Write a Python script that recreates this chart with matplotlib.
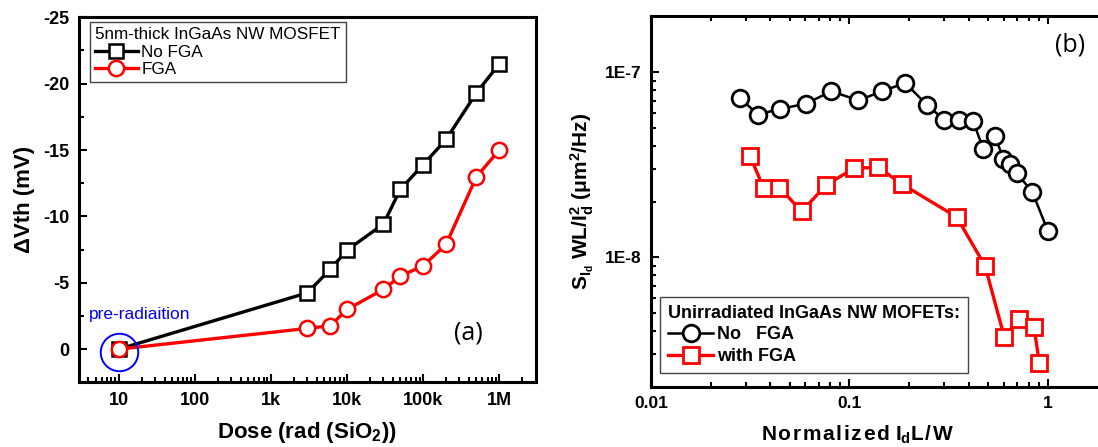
import numpy as np
import matplotlib
matplotlib.use("Agg")
import matplotlib.pyplot as plt
from matplotlib.ticker import FixedLocator, FixedFormatter, LogLocator, NullFormatter, MultipleLocator

plt.rcParams['font.family'] = ['Liberation Sans', 'DejaVu Sans']
plt.rcParams['axes.unicode_minus'] = False
plt.rcParams['mathtext.fontset'] = 'custom'
plt.rcParams['mathtext.rm'] = 'Liberation Sans:bold'
plt.rcParams['mathtext.it'] = 'Liberation Sans:bold'
plt.rcParams['mathtext.bf'] = 'Liberation Sans:bold'

# (a) threshold voltage shift vs dose
dose = [10, 3e3, 6e3, 1e4, 3e4, 5e4, 1e5, 2e5, 5e5, 1e6]
dvth_nofga = [0, -4.24, -6.0, -7.46, -9.42, -12.03, -13.9, -15.8, -19.3, -21.5]
dvth_fga = [0, -1.56, -1.76, -2.99, -4.5, -5.5, -6.28, -7.89, -12.98, -15.0]
dose_ticks = [10, 100, 1e3, 1e4, 1e5, 1e6]
dose_labels = ['10', '100', '1k', '10k', '100k', '1M']

# (b) normalized noise vs normalized current
x_nofga = [0.0281, 0.0345, 0.0448, 0.0603, 0.0809, 0.111, 0.1466, 0.191, 0.245,
           0.300, 0.357, 0.419, 0.473, 0.542, 0.597, 0.645, 0.697, 0.836, 1.0]
s_nofga = [7.27e-8, 5.90e-8, 6.34e-8, 6.75e-8, 7.89e-8, 7.05e-8, 7.89e-8, 8.76e-8, 6.68e-8,
           5.54e-8, 5.54e-8, 5.47e-8, 3.85e-8, 4.50e-8, 3.41e-8, 3.19e-8, 2.85e-8, 2.25e-8, 1.39e-8]
x_fga = [0.0316, 0.0369, 0.0444, 0.0575, 0.0763, 0.1057, 0.140, 0.1837, 0.3475,
         0.483, 0.604, 0.716, 0.851, 0.906]
s_fga = [3.51e-8, 2.38e-8, 2.38e-8, 1.77e-8, 2.46e-8, 3.03e-8, 3.06e-8, 2.49e-8, 1.65e-8,
         8.97e-9, 3.69e-9, 4.67e-9, 4.21e-9, 2.70e-9]

fig = plt.figure(figsize=(10.98, 4.47), dpi=100)

# ---------- panel (a)
ax1 = fig.add_axes([0.0719, 0.1447, 0.4159, 0.8166])
ax1.plot(dose, dvth_nofga, '-s', color='black', lw=2.4, ms=10, mfc='white', mew=1.8, label='No FGA')
ax1.plot(dose, dvth_fga, '-o', color='red', lw=2.4, ms=11, mfc='white', mew=1.8, label='FGA')
ax1.plot([10], [0.25], 'o', ms=27, mfc='none', mec='blue', mew=1.4)
ax1.text(4.1, -2.6, 'pre-radiaition', color='blue', fontsize=12.5, va='center', ha='left')
ax1.text(0.852, 0.135, '(a)', transform=ax1.transAxes, fontsize=18, family='Open Sans',
         ha='center', va='center')
ax1.set_xscale('log')
ax1.set_xlim(3, 3e6)
ax1.set_ylim(2.5, -25)
ax1.xaxis.set_major_locator(FixedLocator(dose_ticks))
ax1.xaxis.set_major_formatter(FixedFormatter(dose_labels))
ax1.xaxis.set_minor_locator(LogLocator(base=10, subs=np.arange(2, 10)))
ax1.xaxis.set_minor_formatter(NullFormatter())
ax1.yaxis.set_major_locator(MultipleLocator(5))
ax1.yaxis.set_minor_locator(MultipleLocator(2.5))
ax1.tick_params(which='both', direction='in', width=1.5, labelsize=13)
ax1.tick_params(which='major', length=6, pad=7)
ax1.tick_params(which='minor', length=3.5)
for lab in ax1.get_xticklabels() + ax1.get_yticklabels():
    lab.set_fontweight('bold')
for sp in ax1.spines.values():
    sp.set_linewidth(2.2)
ax1.set_xlabel('Dose (rad (SiO$_2$))', fontsize=16, fontweight='bold', labelpad=8)
ax1.set_ylabel('ΔVth (mV)', fontsize=16, fontweight='bold', labelpad=6)
leg1 = ax1.legend(loc='upper left', bbox_to_anchor=(0.024, 0.987), title='5nm-thick InGaAs NW MOSFET',
                  fontsize=12.3, title_fontsize=12.3, fancybox=False, edgecolor='#444444',
                  handlelength=2.5, handletextpad=0.2, labelspacing=0.15, borderpad=0.3,
                  borderaxespad=0.0, framealpha=1)
leg1.get_frame().set_linewidth(1.0)
leg1._legend_box.align = 'left'

# ---------- panel (b)
ax2 = fig.add_axes([0.5929, 0.1349, 0.4071, 0.8282])
ax2.plot(x_nofga, s_nofga, '-o', color='black', lw=1.8, ms=12, mfc='white', mew=2.0, label='No   FGA')
ax2.plot(x_fga, s_fga, '-s', color='red', lw=2.4, ms=11, mfc='white', mew=2.0, label='with FGA')
ax2.set_xscale('log')
ax2.set_yscale('log')
ax2.set_xlim(0.01, 1.79)
ax2.set_ylim(2e-9, 2e-7)
ax2.xaxis.set_major_locator(FixedLocator([0.01, 0.1, 1]))
ax2.xaxis.set_major_formatter(FixedFormatter(['0.01', '0.1', '1']))
ax2.yaxis.set_major_locator(FixedLocator([1e-8, 1e-7]))
ax2.yaxis.set_major_formatter(FixedFormatter(['1E-8', '1E-7']))
ax2.xaxis.set_minor_locator(LogLocator(base=10, subs=np.arange(2, 10)))
ax2.yaxis.set_minor_locator(LogLocator(base=10, subs=np.arange(2, 10)))
ax2.xaxis.set_minor_formatter(NullFormatter())
ax2.yaxis.set_minor_formatter(NullFormatter())
ax2.tick_params(which='both', direction='in', width=1.5, labelsize=12.5, top=True)
ax2.tick_params(which='major', length=6, pad=7)
ax2.tick_params(which='minor', length=3.5)
for lab in ax2.get_xticklabels() + ax2.get_yticklabels():
    lab.set_fontweight('bold')
for sp in ax2.spines.values():
    sp.set_linewidth(2.2)
ax2.spines['right'].set_visible(False)
ax2.text(0.937, 0.923, '(b)', transform=ax2.transAxes, fontsize=18, family='Open Sans',
         ha='center', va='center')
sp_ = '\u200a'
ax2.set_xlabel(sp_.join('Normalized') + ' I$_{\\mathrm{d}}$' + sp_.join('L/W'),
               fontsize=15, fontweight='bold')
ax2.xaxis.set_label_coords(0.462, -0.1)
ax2.set_ylabel('S$_{\\mathrm{I_d}}$ WL/I$_{\\mathrm{d}}^{2}$ ($\\mu$m$^{2}$/Hz)', fontsize=15,
               fontweight='bold', labelpad=6)
leg2 = ax2.legend(loc='lower left', bbox_to_anchor=(0.02, 0.037), title='Unirradiated InGaAs NW MOFETs:',
                  fancybox=False, edgecolor='#444444', handlelength=2.5,
                  handletextpad=0.2, labelspacing=0.25, borderpad=0.45, borderaxespad=0.0, framealpha=1,
                  prop={'weight': 'bold', 'size': 13}, title_fontproperties={'weight': 'bold', 'size': 13})
leg2.get_frame().set_linewidth(1.0)
leg2._legend_box.align = 'left'

fig.savefig('out.png', dpi=100)
